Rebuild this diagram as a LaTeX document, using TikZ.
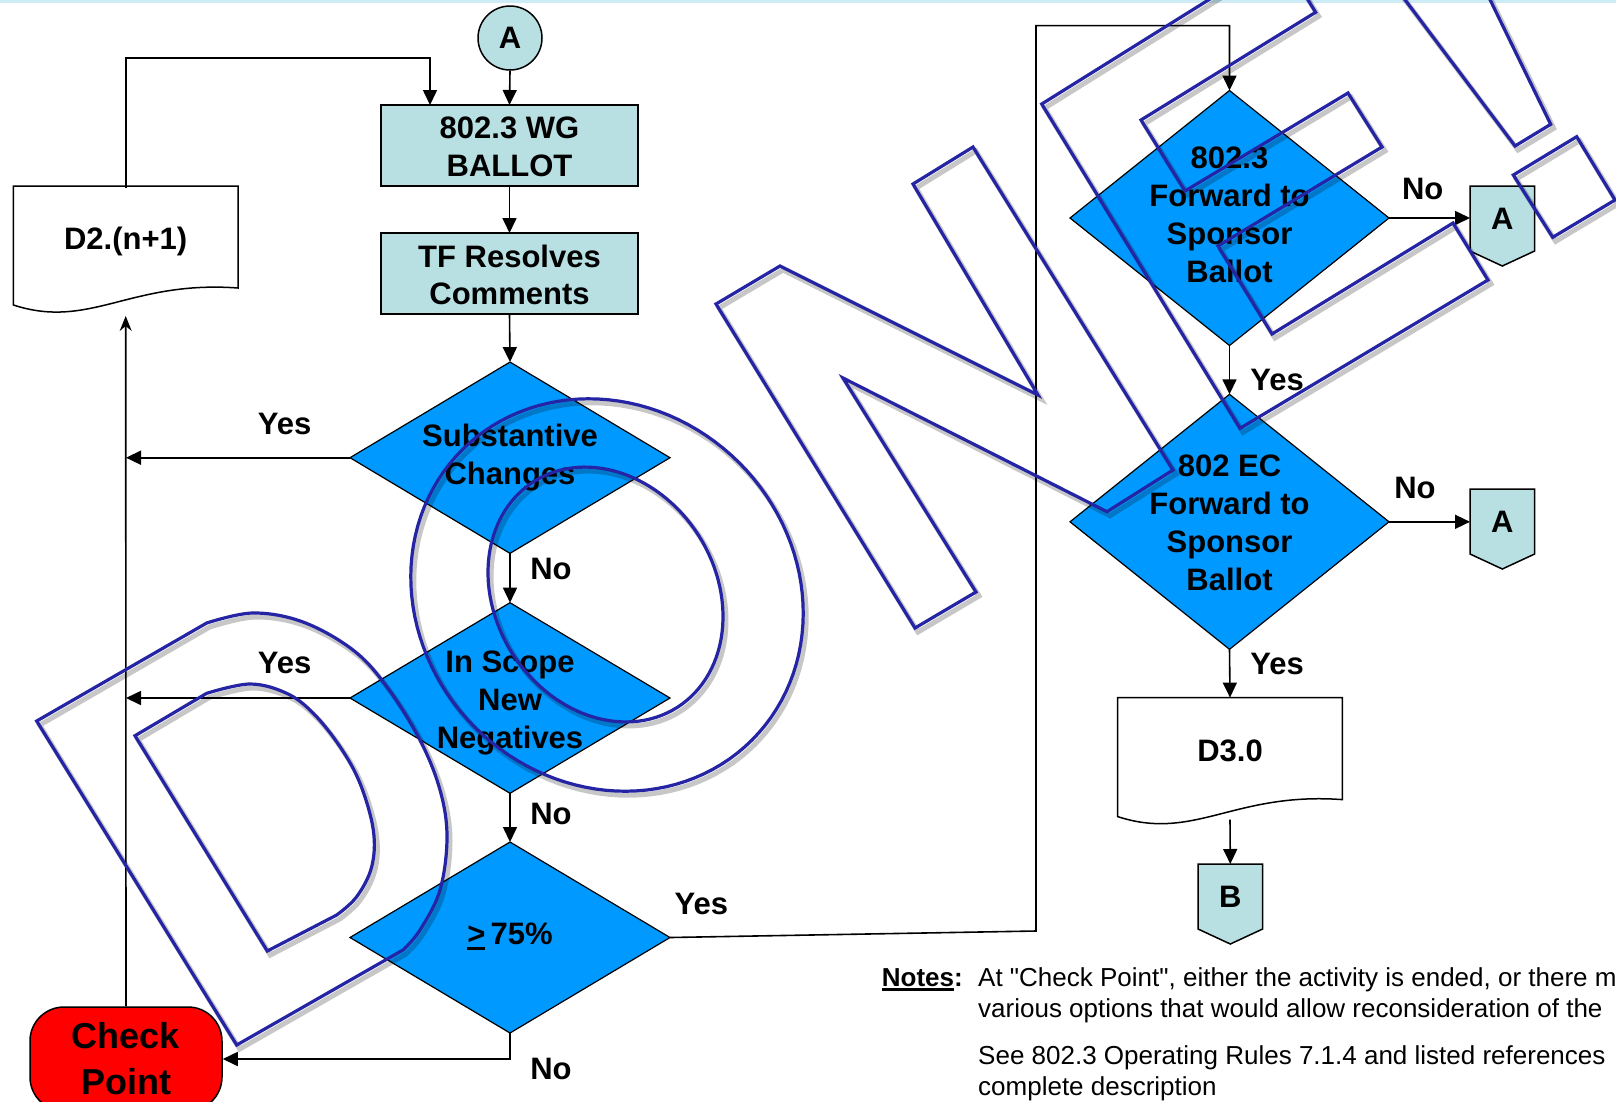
\documentclass[tikz,border=0pt]{standalone}
\usepackage{fontspec}
\setmainfont{Liberation Sans}
\newfontfamily\nfont{Liberation Sans}[Ligatures=TeXOff]
\usetikzlibrary{shapes.geometric,arrows.meta,calc}
\definecolor{boxfill}{RGB}{184,223,226}
\definecolor{diafill}{RGB}{0,153,255}
\definecolor{wmblue}{RGB}{36,36,164}
\definecolor{topline}{RGB}{205,236,246}
\newcommand\myul[1]{\setbox0\hbox{#1}\rlap{\vrule width \wd0 height -2pt depth 4.8pt}#1}
\newcommand\docshape[1]{\draw[docline, shift={(#1)}] (0,0) -- (224.6,0) -- (224.6,102) .. controls (116.6,94) and (76.6,144) .. (0,119) -- cycle;}
\newcommand\opcshape[1]{\draw[opcline, shift={(#1)}] (0,0) -- (64.6,0) -- (64.6,65) -- (32.3,80) -- (0,65) -- cycle;}
\newcommand\wmletters[1]{%
  % D
  \draw[#1] (36.7,721) -- plot[smooth, tension=0.6] coordinates {(206.7,623) (253,613) (303,622) (353,650) (387,687) (420,740) (440,790) (447,837) (440,890) (420,930) (403,950)} -- (236.7,1045) -- cycle;
  \draw[#1] (135,735.7) -- plot[smooth, tension=0.6] coordinates {(206.7,693.3) (250,684) (286.7,693.3) (313.3,713.3) (340,746.7) (360,783.3) (373.3,830) (371.7,866.7) (356.7,896.7) (336.7,915)} -- (267.3,951) -- cycle;
  % O
  \draw[#1] plot[domain=0:360, samples=121] ({607+145*cos(\x)+132.2*sin(\x)}, {595+145*cos(\x)-132.2*sin(\x)}) -- cycle;
  \draw[#1] plot[domain=0:360, samples=121] ({605.5+71.7*cos(\x)+93.1*sin(\x)}, {594.5+112.9*cos(\x)-59.1*sin(\x)}) -- cycle;
  % N
  \draw[#1] (716,304) -- (780,266) -- (1038,395) -- (913,184) -- (973,147) -- (1173,470) -- (1107,511.7) -- (843,378) -- (976,592) -- (915,628) -- cycle;
  % E
  \draw[#1] (1041.7,104) -- (1280.5,-45) -- (1315.6,12.3) -- (1141,120) -- (1185,191) -- (1348,93) -- (1382,147) -- (1218,246) -- (1272,334) -- (1453,223) -- (1488,280) -- (1240,428.3) -- cycle;
  % !
  \draw[#1] (1360,-60) -- (1515,146) -- (1550.7,124.3) -- (1461,-60) -- cycle;
  \draw[#1] (1513.3,175) -- (1576.7,136.7) -- (1615,200) -- (1552.7,237.3) -- cycle;
}
\tikzset{
  box/.style={draw, line width=1.5pt, fill=boxfill, minimum width=257pt, minimum height=81pt, inner sep=0pt, outer sep=0pt},
  dia/.style={diamond, draw, line width=1.2pt, fill=diafill, inner sep=0pt, outer sep=0pt, minimum width=320pt},
  txt/.style={font=\fontsize{31}{38}\selectfont\bfseries, align=center, inner sep=0pt},
  btxt/.style={font=\fontsize{31}{37.5}\selectfont\bfseries, align=center, inner sep=0pt},
  lbl/.style={font=\fontsize{31}{38}\selectfont\bfseries, inner sep=0pt},
  conn/.style={line width=1.6pt},
  arr/.style={conn, -{Triangle[length=15pt,width=14pt]}},
  docb/.style={minimum width=224.6pt, minimum height=106pt, inner sep=0pt, outer sep=0pt, font=\fontsize{31}{38}\selectfont\bfseries},
  docline/.style={draw, line width=1.5pt, fill=white},
  opcline/.style={draw, line width=1.5pt, fill=boxfill},
  opcb/.style={minimum width=64.6pt, minimum height=65pt, inner sep=0pt, outer sep=0pt, font=\fontsize{31}{38}\selectfont\bfseries},
  notes/.style={font=\nfont\fontsize{26}{31.6}\selectfont, inner sep=0pt, anchor=base west},
  wm/.style={draw=wmblue, line width=3.2pt, line join=miter},
  wmsh/.style={draw=black, opacity=0.22, line width=5pt, shift={(3,4)}},
}
\begin{document}
\begin{tikzpicture}[x=1pt,y=-1pt]
\useasboundingbox (0,0) rectangle (1616,1101);
\clip (0,0) rectangle (1616,1101);
\fill[white] (0,0) rectangle (1616,1101);
\fill[topline] (0,0) rectangle (1616,2.5);

% left column
\node[draw, circle, fill=boxfill, minimum size=64pt, line width=1.5pt, inner sep=0pt, font=\fontsize{31}{38}\selectfont\bfseries] (ca) at (510,38) {A};
\node[box] (b1) at (509.5,145.5) {};
\node[btxt] (b1-t) at (509.5,147) {802.3 WG\\BALLOT};
\node[box] (b2) at (509.5,273.5) {};
\node[btxt] (b2-t) at (509.5,275) {TF Resolves\\Comments};
\node[dia, minimum height=191.3pt] (s) at (510,457.7) {};
\node[txt] (s-t) at (510,457.5) {Substantive\\Changes};
\node[dia, minimum height=190.6pt] (i) at (510,698) {};
\node[txt] (i-t) at (510,703) {In Scope\\New\\Negatives};
\node[dia, minimum height=191pt] (p) at (510,937.5) {};
\node[txt] (p-t) at (510,936.5) {\myul{>}\,75\%};

\coordinate (d2nw) at (13.4,186);
\docshape{d2nw}
\node[docb] (d2) at (125.7,241) {D2.(n+1)};

\node[draw, line width=1.5pt, fill=red, rounded corners=34pt, minimum width=192pt, minimum height=104pt, inner sep=0pt, align=center, font=\fontsize{36}{46}\selectfont\bfseries] (cp) at (126,1059) {Check\\Point};

% right column
\node[dia, minimum width=319pt, minimum height=255pt] (f1) at (1229.5,218) {};
\node[txt] (f1-t) at (1229.5,215) {802.3\\Forward to\\Sponsor\\Ballot};
\node[dia, minimum width=319pt, minimum height=255pt] (f2) at (1229.5,521.8) {};
\node[txt] (f2-t) at (1229.5,523.3) {802 EC\\Forward to\\Sponsor\\Ballot};

\coordinate (a1nw) at (1470,186);
\opcshape{a1nw}
\node[opcb] (a1) at (1502.3,218.5) {A};
\coordinate (a2nw) at (1470,489);
\opcshape{a2nw}
\node[opcb] (a2) at (1502.3,521.5) {A};

\coordinate (d3nw) at (1117.7,697.6);
\docshape{d3nw}
\node[docb] (d3) at (1230,750.6) {D3.0};

\coordinate (bbnw) at (1198,864);
\opcshape{bbnw}
\node[opcb] (bb) at (1230.3,896.5) {B};

% connectors
\draw[arr] (ca.south) -- (b1.north);
\draw[arr] (d2.north) -- ++(0,-130) -| ([xshift=-79.5pt]b1.north);
\draw[arr] (b1.south) -- (b2.north);
\draw[arr] (b2.south) -- (s.north);
\draw[arr] (s.south) -- (i.north);
\draw[arr] (i.south) -- (p.north);
\draw[arr] (s.west) -- (s.west -| cp.north);
\draw[arr] (i.west) -- (i.west -| cp.north);
\draw[arr] (p.south) |- (cp.east);
\draw[conn, -{Stealth[length=15pt,width=12pt,inset=5pt]}] (cp.north) -- ([yshift=-22pt]d2.south);
\coordinate (c1) at (1036,931);
\coordinate (c2) at (1229.5,25.6);
\draw[arr] (p.east) -- (c1) |- (c2) -- (f1.north);
\draw[arr] (f1.east) -- (f1.east -| a1.west);
\draw[arr] (f1.south) -- (f2.north);
\draw[arr] (f2.east) -- (f2.east -| a2.west);
\draw[arr] (f2.south) -- (d3.north);
\draw[arr] ([yshift=-16pt]d3.south) -- (bb.north);

% labels
\node[lbl] (ly1) at (284.7,423.7) {Yes};
\node[lbl] (ln1) at (551,568.5) {No};
\node[lbl] (ly2) at (284.7,663.3) {Yes};
\node[lbl] (ln2) at (551,814.4) {No};
\node[lbl] (ly3) at (701.4,904) {Yes};
\node[lbl] (ln3) at (551,1069) {No};
\node[lbl] (ln4) at (1422.7,188.7) {No};
\node[lbl] (ly4) at (1277,380) {Yes};
\node[lbl] (ln5) at (1415,488) {No};
\node[lbl] (ly5) at (1277,663.7) {Yes};

% notes
\node[notes] (nt0) at (881.7,986) {\myul{\bfseries Notes}:};
\node[notes] (nt1) at (978,986) {At "Check Point", either the activity is ended, or there m};
\node[notes] (nt2) at (978,1017) {various options that would allow reconsideration of the};
\node[notes] (nt3) at (978,1064) {See 802.3 Operating Rules 7.1.4 and listed references};
\node[notes] (nt4) at (978,1095) {complete description};

% watermark
\wmletters{wmsh}
\wmletters{wm}
\end{tikzpicture}
\end{document}
